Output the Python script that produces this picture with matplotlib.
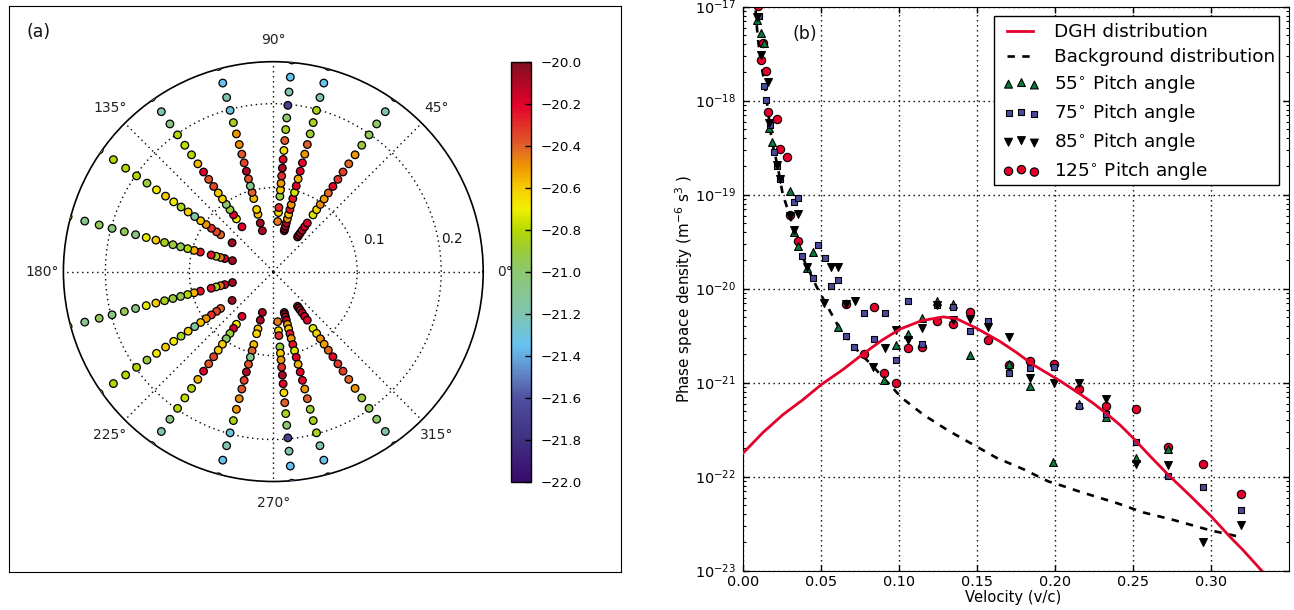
import numpy as np
import matplotlib
matplotlib.use("Agg")
import matplotlib.pyplot as plt
from matplotlib.colors import LinearSegmentedColormap, Normalize
from matplotlib.patches import Rectangle
from matplotlib.ticker import LogLocator, NullFormatter
from matplotlib.cm import ScalarMappable

"""
Two panels: polar map of the phase space density and cuts of it at four pitch angles
"""

nan = float("nan")

# panel (a): speed of each ring, log10 density along each ray (same order as SPEED)
SPEED = [0.2530, 0.2325, 0.2147, 0.1988, 0.1837, 0.1698, 0.1567, 0.1448, 0.1341, 0.1238, 0.1143,
         0.1056, 0.0976, 0.0900, 0.0825, 0.0766, 0.0706, 0.0651, 0.0599, 0.0560, 0.0528, 0.0504]
RAY_55 = [-21.6, -21.15, -20.98, -20.95, -20.9, -20.5, -20.42, -20.33, -20.32, -20.22, -20.42,
          -20.52, -20.48, -20.62, -20.75, nan, -20.18, -20.15, -20.12, -20.08, -20.06, -20.05]
RAY_75 = [-21.6, -21.35, -21.2, -20.85, -20.85, -20.88, -20.4, -20.5, -20.22, -20.2, -20.55,
          -20.2, -20.75, -20.25, -20.5, -20.25, -20.58, -20.5, -20.1, -20.08, -20.05, -20.03]
RAY_85 = [-21.5, -21.35, -21.2, -21.7, -21.0, -20.85, -20.4, -20.65, -20.22, -20.08, -20.3,
          -20.5, -20.6, -20.9, nan, -20.3, -20.62, nan, -20.45, nan, nan, nan]
RAY_105 = [-21.5, -21.35, -21.2, -21.3, -20.85, -20.5, -20.48, -20.38, -20.35, -20.1, -20.38,
           -21.1, -20.4, -20.57, nan, -20.62, -20.58, nan, -20.08, nan, nan, -20.1]
RAY_125 = [-21.4, -21.2, -21.05, -20.8, -20.78, -20.8, -20.55, -20.2, -20.38, -20.35, -20.6,
           -20.6, -21.0, -20.9, -20.2, -20.68, nan, -20.2, nan, nan, nan, nan]
RAY_145 = [-20.9, -20.8, -20.8, -20.82, -20.9, -20.68, -20.6, -20.68, -20.85, -20.62, -21.15,
           -20.58, -20.5, -20.3, -20.35, -20.42, nan, nan, -20.07, nan, nan, nan]
RAY_165 = [-20.95, -21.1, -20.95, -21.05, -20.95, -21.05, -20.72, -20.6, -20.85, -20.9, -20.95,
           -20.8, -20.55, -20.25, nan, -20.25, -20.85, -20.45, -20.15, nan, nan, -20.07]
RAYS = {55: RAY_55, 75: RAY_75, 85: RAY_85, 105: RAY_105, 125: RAY_125, 145: RAY_145, 165: RAY_165}

# panel (b): velocity and log10 density of each series
V_55 = [0.0088, 0.0118, 0.0135, 0.0169, 0.0186, 0.0301, 0.0327, 0.035, 0.0412, 0.0447, 0.0611, 0.0906,
        0.0981, 0.106, 0.115, 0.1241, 0.1344, 0.1455, 0.1703, 0.184, 0.1989, 0.2156, 0.2329, 0.2522, 0.2724]
LOG_55 = [-17.14, -17.28, -17.39, -18.29, -18.44, -18.96, -19.40, -19.55, -19.78, -19.61, -20.41, -20.97,
          -20.6, -20.48, -20.31, -20.13, -20.16, -20.71, -20.8, -21.03, -21.84, -21.23, -21.37, -21.8, -21.71]
V_75 = [0.0103, 0.0135, 0.0147, 0.0173, 0.0201, 0.0218, 0.0237, 0.0327, 0.0353, 0.038, 0.0447, 0.0483,
        0.0523, 0.0566, 0.0611, 0.0662, 0.0713, 0.0776, 0.084, 0.0908, 0.0983, 0.106, 0.115, 0.1241, 0.1344,
        0.1455, 0.1573, 0.1703, 0.184, 0.1992, 0.2156, 0.2329, 0.2522, 0.2724, 0.2947, 0.319]
LOG_75 = [-17.1, -17.84, -17.99, -18.26, -18.55, -18.69, -18.83, -19.08, -19.04, -19.65, -19.89, -19.54,
          -19.67, -19.97, -19.91, -20.5, -20.62, -20.26, -20.54, -20.26, -20.76, -20.13, -20.59, -20.17, -20.19,
          -20.45, -20.34, -20.9, -20.84, -20.83, -21.25, -21.33, -21.63, -21.99, -22.11, -22.35]
V_85 = [0.0092, 0.0118, 0.0162, 0.0169, 0.022, 0.0237, 0.0301, 0.0327, 0.035, 0.0412, 0.0521, 0.0564,
        0.0611, 0.0662, 0.0716, 0.0833, 0.0908, 0.0983, 0.106, 0.115, 0.1241, 0.1344, 0.1455, 0.1573, 0.1703,
        0.184, 0.1992, 0.2156, 0.2329, 0.2522, 0.2724, 0.2947, 0.319]
LOG_85 = [-17.11, -17.51, -17.8, -18.24, -18.68, -18.83, -19.23, -19.38, -19.21, -19.77, -20.15, -19.77,
          -19.77, -20.16, -20.13, -20.83, -20.63, -20.44, -20.55, -20.42, -20.17, -20.33, -20.32, -20.41, -20.51,
          -20.95, -21.0, -21.0, -21.17, -21.86, -21.88, -22.69, -22.51]
V_125 = [0.0098, 0.0115, 0.0126, 0.0147, 0.016, 0.0218, 0.0237, 0.028, 0.0301, 0.0355, 0.0662, 0.0773,
         0.084, 0.0906, 0.0981, 0.106, 0.115, 0.1241, 0.1344, 0.1455, 0.1573, 0.1703, 0.184, 0.1992, 0.2156,
         0.2329, 0.2522, 0.2724, 0.2947, 0.319]
LOG_125 = [-16.99, -17.57, -17.39, -17.68, -18.12, -18.19, -18.51, -18.6, -19.22, -19.49, -20.16, -20.69,
           -20.2, -20.9, -21.0, -20.63, -20.62, -20.34, -20.38, -20.25, -20.55, -20.81, -20.77, -20.8, -21.07,
           -21.25, -21.28, -21.68, -21.86, -22.18]
V_DGH = [0.0, 0.0128, 0.0256, 0.0385, 0.0502, 0.0641, 0.0765, 0.0889, 0.1006, 0.1145, 0.1284, 0.137, 0.1496,
         0.1646, 0.1754, 0.1861, 0.2032, 0.216, 0.2246, 0.2331, 0.2417, 0.2502, 0.2609, 0.2726, 0.2865, 0.3,
         0.3122, 0.3205, 0.3325]
LOG_DGH = [-21.75, -21.53, -21.34, -21.18, -21.02, -20.86, -20.70, -20.55, -20.43, -20.34, -20.30, -20.32, -20.42,
           -20.56, -20.68, -20.81, -20.98, -21.12, -21.22, -21.33, -21.45, -21.59, -21.78, -21.98, -22.2, -22.42,
           -22.64, -22.78, -23.0]
V_BG = [0.0081, 0.0094, 0.0113, 0.0141, 0.0173, 0.0186, 0.022, 0.0237, 0.0254, 0.0301, 0.035, 0.0412, 0.0472,
        0.0611, 0.0718, 0.0835, 0.1017, 0.1156, 0.1316, 0.1477, 0.1626, 0.1797, 0.1957, 0.2053, 0.216, 0.2395,
        0.2566, 0.2759, 0.2994, 0.3186]
LOG_BG = [-17.04, -17.32, -17.57, -17.85, -18.28, -18.44, -18.68, -18.83, -18.99, -19.23, -19.55, -19.77, -19.98,
          -20.40, -20.63, -20.83, -21.16, -21.34, -21.51, -21.66, -21.8, -21.92, -22.05, -22.1, -22.16, -22.28,
          -22.38, -22.46, -22.57, -22.64]

# colormap stops
CMAP = LinearSegmentedColormap.from_list("density", [
    (0.0, "#3a0a6e"), (0.1, "#403080"), (0.2, "#5050a0"), (0.25, "#6080c0"), (0.325, "#66c2f0"),
    (0.4, "#80c4b0"), (0.5, "#8cc870"), (0.55, "#9acb3c"), (0.6, "#b5d800"), (0.65, "#f2f000"),
    (0.7, "#f7cc00"), (0.75, "#ef9800"), (0.8, "#e0602a"), (0.9, "#e4002b"), (1.0, "#7f1020"),
])
WIDTH, HEIGHT = 1294, 610
# longer gaps than the default dotted line
DOTTED = (0, (1, 2.6))


def px_axes(fig, left, top, right, bottom, **kwargs):
    """add axes from pixel edges measured from the top left of the figure"""
    return fig.add_axes(
        [left / WIDTH, 1 - bottom / HEIGHT, (right - left) / WIDTH, (bottom - top) / HEIGHT], **kwargs
    )


def px_text(fig, x, y, text, size):
    fig.text(x / WIDTH, 1 - y / HEIGHT, text, fontsize=size, ha="center", va="center", color="#111111")


def draw_polar(fig):
    frame = px_axes(fig, 8.5, 5.5, 620.5, 571.5)
    frame.set_xticks([])
    frame.set_yticks([])
    px_text(fig, 39, 32, "(a)", 12.5)

    norm = Normalize(-22, -20)
    ax = px_axes(fig, 63.3, 61.7, 483.3, 481.5, projection="polar")
    speed = np.array(SPEED)[::-1]
    for angle, ray in RAYS.items():
        values = np.array(ray)[::-1]
        keep = ~np.isnan(values)
        for sign in (1, -1):
            ax.scatter(
                sign * np.radians(angle) * np.ones(keep.sum()), speed[keep], c=values[keep],
                cmap=CMAP, norm=norm, s=30, edgecolors="black", linewidths=0.9, zorder=3,
            )
    ax.set_ylim(0, 0.25)
    ax.set_yticks([0.1, 0.2])
    ax.set_yticklabels([])
    ax.set_thetagrids(range(0, 360, 45))
    ax.tick_params(axis="x", labelsize=10, pad=5, labelcolor="#222222")
    ax.grid(True, color="black", linestyle=DOTTED, linewidth=1.0)
    ax.spines["polar"].set_linewidth(1.2)
    px_text(fig, 374, 240, "0.1", 9.8)
    px_text(fig, 452, 239, "0.2", 9.8)

    cax = px_axes(fig, 510.7, 61.7, 531.3, 482)
    cbar = fig.colorbar(ScalarMappable(norm=norm, cmap=CMAP), cax=cax)
    cbar.set_ticks(np.arange(-22, -19.9, 0.2))
    cbar.ax.tick_params(direction="in", length=4, width=1, labelsize=9.6, pad=7)
    cbar.ax.set_yticklabels([f"\u2212{abs(v):.1f}" for v in np.arange(-22, -19.9, 0.2)])
    cbar.outline.set_linewidth(1.0)


def draw_cuts(fig):
    ax = px_axes(fig, 743, 6.7, 1289, 570.7)
    ax.semilogy(V_DGH, 10.0 ** np.array(LOG_DGH), color="#e4002b", linewidth=2, zorder=6,
                label="DGH distribution")
    ax.semilogy(V_BG, 10.0 ** np.array(LOG_BG), color="black", linewidth=1.9, linestyle=(0, (2.8, 2.8)), zorder=1.5,
                label="Background distribution")
    ax.scatter(V_55, 10.0 ** np.array(LOG_55), marker="^", s=32, c="#0b7a3b", edgecolors="black",
               linewidths=0.8, zorder=3, label=r"55$^{\circ}$ Pitch angle")
    ax.scatter(V_75, 10.0 ** np.array(LOG_75), marker="s", s=19, c="#4a4a9c", edgecolors="black",
               linewidths=0.8, zorder=4, label=r"75$^{\circ}$ Pitch angle")
    ax.scatter(V_85, 10.0 ** np.array(LOG_85), marker="v", s=32, c="black", edgecolors="black",
               linewidths=0.8, zorder=5, label=r"85$^{\circ}$ Pitch angle")
    ax.scatter(V_125, 10.0 ** np.array(LOG_125), marker="o", s=36, c="#e4002b", edgecolors="black",
               linewidths=0.8, zorder=2, label=r"125$^{\circ}$ Pitch angle")

    ax.set_xlim(0, 0.35)
    ax.set_ylim(1e-23, 1e-17)
    ax.set_xticks(np.arange(0, 0.31, 0.05))
    ax.xaxis.set_major_formatter(plt.FormatStrFormatter("%.2f"))
    ax.yaxis.set_major_locator(LogLocator(base=10, numticks=10))
    ax.yaxis.set_minor_locator(LogLocator(base=10, subs=np.arange(2, 10), numticks=12))
    ax.yaxis.set_minor_formatter(NullFormatter())
    ax.tick_params(which="major", direction="in", top=True, right=True, length=4.5, width=1, labelsize=10.4)
    ax.tick_params(which="minor", direction="in", left=True, right=True, length=2.5, width=0.8)
    ax.tick_params(axis="x", which="major", pad=3)
    ax.tick_params(axis="y", which="major", pad=5)
    ax.grid(True, which="major", color="black", linestyle=DOTTED, linewidth=1.0)
    ax.set_axisbelow(True)
    ax.set_xlabel("Velocity (v/c)", fontsize=10.6, labelpad=1, x=0.494)
    ax.set_ylabel(r"Phase space density (m$^{-6}$ s$^{3}$ )", fontsize=10.9, labelpad=0)

    # the box is drawn on its own so its padding can differ from the legend entries
    ax.add_patch(Rectangle((994 / WIDTH, 1 - 185 / HEIGHT), 285 / WIDTH, 169 / HEIGHT, transform=fig.transFigure,
                           facecolor="white", edgecolor="black", linewidth=1.0, zorder=9, clip_on=False))
    leg = ax.legend(loc="upper left", bbox_to_anchor=(1003 / WIDTH, 1 - 23 / HEIGHT), bbox_transform=fig.transFigure,
                    fontsize=13.3, scatterpoints=3, frameon=False, labelspacing=0.38, handlelength=2.0,
                    handletextpad=0.75, borderaxespad=0, borderpad=0)
    leg.set_zorder(10)
    for line in leg.get_lines():
        x = line.get_xdata()
        line.set_xdata(np.linspace(x[0] + 3, x[-1] - 5, len(x)))
    px_text(fig, 805, 34, "(b)", 12.5)


def main():
    fig = plt.figure(figsize=(WIDTH / 100, HEIGHT / 100), dpi=100)
    draw_polar(fig)
    draw_cuts(fig)
    fig.savefig("out.png", dpi=100)


if __name__ == "__main__":
    main()
